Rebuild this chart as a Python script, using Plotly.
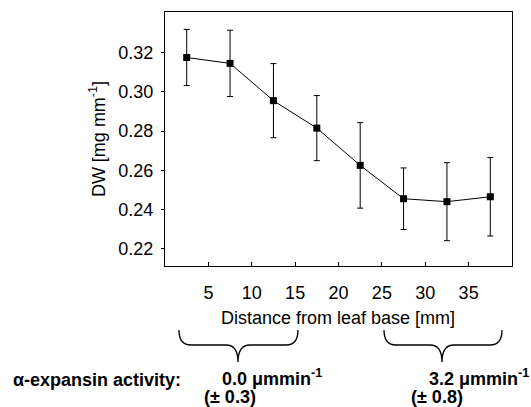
import plotly.graph_objects as go

# Data
distance_mm = [2.5, 7.5, 12.5, 17.5, 22.5, 27.5, 32.5, 37.5]
dw_mg_per_mm = [0.3175, 0.3145, 0.2955, 0.2815, 0.2625, 0.2455, 0.2440, 0.2465]
dw_error = [0.0143, 0.0169, 0.0189, 0.0166, 0.0218, 0.0157, 0.0199, 0.0200]
x_tick_vals = [5, 10, 15, 20, 25, 30, 35]
y_tick_vals = [0.22, 0.24, 0.26, 0.28, 0.30, 0.32]
y_tick_text = ["0.22", "0.24", "0.26", "0.28", "0.30", "0.32"]
activity_label = "α-expansin activity:"
activity_values = ["0.0 μmmin<sup>-1</sup>", "3.2 μmmin<sup>-1</sup>"]
activity_sd = ["(± 0.3)", "(± 0.8)"]

W, H = 531, 407
L, R, T, B = 165, 19, 12, 141
PW, PH = W - L - R, H - T - B
FONT = "Liberation Sans, Arial, sans-serif"


def px(x):
    return (x - L) / PW


def py(y):
    return (H - B - y) / PH


fig = go.Figure()
fig.add_trace(go.Scatter(
    x=distance_mm, y=dw_mg_per_mm,
    mode="lines+markers",
    line=dict(color="black", width=1),
    marker=dict(symbol="square", size=7, color="black"),
    error_y=dict(type="data", array=dw_error, visible=True,
                 color="black", thickness=1, width=3),
    showlegend=False,
    hoverinfo="skip",
))


def brace(x0, x1, xm, ytop, yflat, ytip, r=12):
    pts = [
        f"M {px(x0)},{py(ytop)}",
        f"Q {px(x0)},{py(yflat)} {px(x0 + r)},{py(yflat)}",
        f"L {px(xm - r)},{py(yflat)}",
        f"Q {px(xm)},{py(yflat)} {px(xm)},{py(ytip)}",
        f"Q {px(xm)},{py(yflat)} {px(xm + r)},{py(yflat)}",
        f"L {px(x1 - r)},{py(yflat)}",
        f"Q {px(x1)},{py(yflat)} {px(x1)},{py(ytop)}",
    ]
    return dict(type="path", xref="paper", yref="paper", path=" ".join(pts),
                line=dict(color="black", width=1.3))


shapes = [
    brace(179, 298, 238, 330, 345, 362),
    brace(384, 502, 442, 330, 345, 362),
]


def ann(text, x, y, xanchor="left", yanchor="middle", size=18):
    return dict(text=text, x=px(x), y=py(y), xref="paper", yref="paper",
                showarrow=False, xanchor=xanchor, yanchor=yanchor,
                font=dict(size=size), borderpad=0)


annotations = [
    ann("Distance from leaf base [mm]", 338, 318, xanchor="center"),
    ann(f"<b>{activity_label}</b>", 12, 380),
    ann(f"<b>{activity_values[0]}</b>", 221, 377),
    ann(f"<b>{activity_values[1]}</b>", 428, 377),
    ann(f"<b>{activity_sd[0]}</b>", 230, 397, xanchor="center"),
    ann(f"<b>{activity_sd[1]}</b>", 437, 397, xanchor="center"),
]

fig.update_layout(
    width=W, height=H,
    margin=dict(l=L, r=R, t=T, b=B, pad=0),
    paper_bgcolor="white", plot_bgcolor="white",
    font=dict(family=FONT, size=18, color="black"),
    shapes=shapes,
    annotations=annotations,
    hovermode=False,
    xaxis=dict(range=[0, 40], tickvals=x_tick_vals, ticks="inside", ticklen=4,
               tickcolor="black", showline=True, mirror=True, linecolor="black",
               linewidth=1, showgrid=False, zeroline=False,
               ticklabelstandoff=10, tickfont=dict(size=18)),
    yaxis=dict(range=[0.2112, 0.3407], tickvals=y_tick_vals, ticktext=y_tick_text,
               ticks="outside", ticklen=3, tickcolor="black",
               showline=True, mirror=True, linecolor="black", linewidth=1,
               showgrid=False, zeroline=False, ticklabelstandoff=4,
               tickfont=dict(size=18),
               title=dict(text="DW [mg mm<sup>-1</sup>]", standoff=8,
                          font=dict(size=18))),
)

fig.write_html(
    "out.html",
    config={"displayModeBar": False, "staticPlot": True},
    post_script="document.body.style.margin='0px';document.body.style.overflow='hidden';",
)
